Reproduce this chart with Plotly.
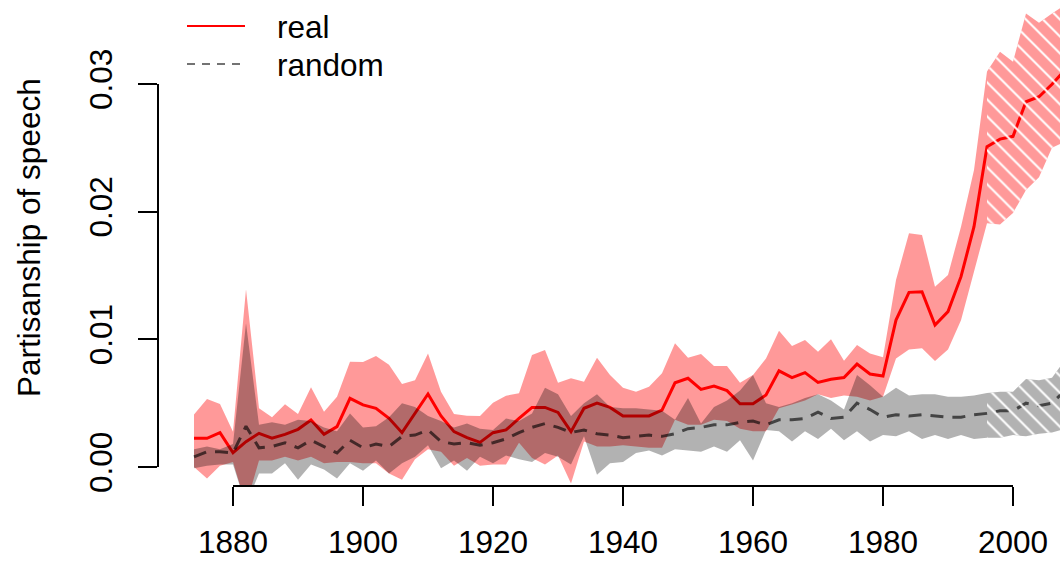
import plotly.graph_objects as go

# Congress years (every two years)
years = list(range(1874, 2010, 2))

# Partisanship of real speech: point estimate and confidence band
real = [0.00225, 0.00225, 0.00269, 0.00112, 0.00198, 0.00264, 0.00225, 0.00256, 0.00295, 0.00368,
        0.00256, 0.00316, 0.00538, 0.00486, 0.00460, 0.00381, 0.00269, 0.00420, 0.00572, 0.00400,
        0.00277, 0.00230, 0.00193, 0.00269, 0.00290, 0.00380, 0.00467, 0.00467, 0.00428, 0.00277,
        0.00460, 0.00500, 0.00467, 0.00400, 0.00400, 0.00400, 0.00446, 0.00660, 0.00695, 0.00608,
        0.00634, 0.00598, 0.00495, 0.00495, 0.00564, 0.00753, 0.00700, 0.00739, 0.00662, 0.00687,
        0.00701, 0.00806, 0.00728, 0.00713, 0.01151, 0.01368, 0.01373, 0.01112, 0.01217, 0.01491,
        0.01882, 0.02509, 0.02568, 0.02590, 0.02861, 0.02900, 0.02998, 0.03110]
real_hi = [0.00412, 0.00533, 0.00493, 0.00277, 0.01392, 0.00460, 0.00389, 0.00491, 0.00415, 0.00624,
           0.00433, 0.00550, 0.00825, 0.00823, 0.00870, 0.00800, 0.00650, 0.00680, 0.00890, 0.00590,
           0.00415, 0.00402, 0.00400, 0.00504, 0.00559, 0.00577, 0.00877, 0.00916, 0.00660, 0.00695,
           0.00668, 0.00856, 0.00720, 0.00621, 0.00590, 0.00629, 0.00734, 0.00969, 0.00856, 0.00885,
           0.00791, 0.00792, 0.00660, 0.00720, 0.00850, 0.01068, 0.00948, 0.00995, 0.00903, 0.01000,
           0.00833, 0.00956, 0.00890, 0.00859, 0.01465, 0.01830, 0.01817, 0.01412, 0.01504, 0.01882,
           0.02326, 0.03097, 0.03253, 0.03175, 0.03553, 0.03480, 0.03553, 0.03620]
real_lo = [0.0000, -0.0009, 0.0001, 0.0004, -0.0030, 0.0005, 0.0005, 0.0008, 0.0005, 0.0008,
           0.0003, 0.0004, 0.0004, 0.0003, 0.0003, -0.0005, -0.0010, 0.0006, 0.0014, 0.0012,
           0.0001, 0.0007, 0.0001, 0.0002, 0.0002, 0.0019, 0.0007, 0.0002, 0.0009, -0.0013,
           0.0020, 0.0016, 0.0016, 0.0017, 0.0016, 0.0015, 0.0015, 0.0037, 0.0033, 0.0033,
           0.0037, 0.0036, 0.0030, 0.0028, 0.0028, 0.0046, 0.0049, 0.0052, 0.0057, 0.0054,
           0.0056, 0.0055, 0.0052, 0.0055, 0.0085, 0.0092, 0.0093, 0.0083, 0.0092, 0.0115,
           0.0152, 0.0191, 0.0190, 0.0199, 0.0217, 0.0227, 0.0250, 0.0255]

# Partisanship under randomly assigned party labels
random_ = [0.0008, 0.0012, 0.0012, 0.0011, 0.0032, 0.0015, 0.0016, 0.0019, 0.0015, 0.0021,
           0.0016, 0.0011, 0.0021, 0.0015, 0.0018, 0.0016, 0.0024, 0.0025, 0.0029, 0.0020,
           0.0018, 0.0019, 0.0017, 0.0019, 0.0022, 0.0027, 0.0031, 0.0034, 0.0031, 0.0027,
           0.0029, 0.0026, 0.0025, 0.0023, 0.0024, 0.0025, 0.0024, 0.0026, 0.0030, 0.0031,
           0.0033, 0.0033, 0.0035, 0.0036, 0.0033, 0.0037, 0.0037, 0.0038, 0.0043, 0.0038,
           0.0039, 0.0050, 0.0045, 0.0039, 0.0041, 0.0040, 0.0041, 0.0040, 0.0039, 0.0039,
           0.0041, 0.0042, 0.0044, 0.0044, 0.0050, 0.0048, 0.0050, 0.0060]
random_hi = [0.0014, 0.0016, 0.0014, 0.0018, 0.01125, 0.0033, 0.0035, 0.0033, 0.0037, 0.0036,
             0.0031, 0.0028, 0.0042, 0.0031, 0.0032, 0.0039, 0.0050, 0.0047, 0.0040, 0.0036,
             0.0031, 0.0034, 0.0030, 0.0029, 0.0038, 0.0036, 0.0042, 0.0062, 0.0057, 0.0040,
             0.0050, 0.0057, 0.0047, 0.0046, 0.0046, 0.0045, 0.0044, 0.0037, 0.0054, 0.0034,
             0.0047, 0.0052, 0.0060, 0.0072, 0.0050, 0.0047, 0.0050, 0.0054, 0.0057, 0.0052,
             0.0045, 0.0072, 0.0064, 0.0055, 0.0062, 0.0056, 0.0057, 0.0057, 0.0055, 0.0055,
             0.0056, 0.0058, 0.0059, 0.0059, 0.0069, 0.0068, 0.0070, 0.0084]
random_lo = [-0.0001, 0.0001, 0.0002, 0.0002, -0.0030, -0.0005, -0.0005, 0.0003, -0.0010, 0.0002,
             -0.0002, -0.0009, 0.0003, -0.0003, 0.0005, -0.0005, 0.0003, 0.0008, 0.0017, -0.0001,
             0.0005, -0.0003, 0.0008, 0.0003, 0.0009, 0.0006, 0.0004, 0.0011, 0.0008, 0.0002,
             0.0024, -0.0006, 0.0003, 0.0004, 0.0011, 0.0013, 0.0009, 0.0014, 0.0013, 0.0012,
             0.0016, 0.0012, 0.0021, 0.0005, 0.0029, 0.0028, 0.0020, 0.0028, 0.0022, 0.0030,
             0.0021, 0.0028, 0.0020, 0.0025, 0.0024, 0.0028, 0.0022, 0.0025, 0.0022, 0.0025,
             0.0022, 0.0023, 0.0023, 0.0025, 0.0024, 0.0026, 0.0027, 0.0030]

# Years after this are shown hatched
hatch_from = 1996

x_ticks = [1880, 1900, 1920, 1940, 1960, 1980, 2000]
y_ticks = [0.0, 0.01, 0.02, 0.03]
y_tick_text = ["0.00", "0.01", "0.02", "0.03"]

legend_labels = ["real", "random"]
y_title = "Partisanship of speech"

FONT = "Liberation Sans, Arial, Helvetica, sans-serif"
FS = 31.5
W, H = 1060, 564

RED_BAND = "rgba(255,0,0,0.4)"
GRAY_BAND = "rgba(0,0,0,0.3)"
RED_LINE = "rgb(255,0,0)"
RAND_LINE = "rgba(0,0,0,0.62)"


def band(xs, lo, hi):
    return xs + xs[::-1], hi + lo[::-1]


def tail(seq):
    return [v for yr, v in zip(years, seq) if yr >= hatch_from]


fig = go.Figure()

# confidence band of the real series, then its line
bx, by = band(years, real_lo, real_hi)
fig.add_trace(go.Scatter(x=bx, y=by, fill="toself", fillcolor=RED_BAND,
                         line=dict(width=0), mode="lines", hoverinfo="skip"))
fig.add_trace(go.Scatter(x=years, y=real, mode="lines",
                         line=dict(color=RED_LINE, width=3), name=legend_labels[0]))

# band and dashed line for the random-label series
bx, by = band(years, random_lo, random_hi)
fig.add_trace(go.Scatter(x=bx, y=by, fill="toself", fillcolor=GRAY_BAND,
                         line=dict(width=0), mode="lines", hoverinfo="skip"))
fig.add_trace(go.Scatter(x=years, y=random_, mode="lines",
                         line=dict(color=RAND_LINE, width=3, dash="13px,9px"),
                         name=legend_labels[1]))

# white hatching over the recent congresses
ty = tail(years)
for lo, hi in ((real_lo, real_hi), (random_lo, random_hi)):
    hx, hy = band(ty, tail(lo), tail(hi))
    fig.add_trace(go.Scatter(
        x=hx, y=hy, fill="toself", fillcolor="rgba(0,0,0,0)", mode="lines",
        line=dict(width=0), hoverinfo="skip",
        fillpattern=dict(shape="\\", fgcolor="white", bgcolor="rgba(0,0,0,0)",
                         size=12, solidity=0.17, fgopacity=1),
    ))

# empty trace that carries the drawn axes
fig.add_trace(go.Scatter(x=[None], y=[None], xaxis="x2", yaxis="y2", hoverinfo="skip"))

x0_px, x1880_px, x2000_px = 158, 233, 1013
y_axis_px, y0_px, y03_px = 486, 467, 84
px_per_year = (x2000_px - x1880_px) / 120
px_per_unit = (y0_px - y03_px) / 0.03

fig.update_layout(
    template="none",
    width=W, height=H, autosize=False,
    margin=dict(l=0, r=0, t=0, b=0, pad=0, autoexpand=False),
    paper_bgcolor="white", plot_bgcolor="rgba(0,0,0,0)",
    showlegend=False,
    font=dict(family=FONT, size=FS, color="black"),
    xaxis=dict(domain=[x0_px / W, 1],
               range=[1880 - (x1880_px - x0_px) / px_per_year,
                      1880 + (W - x1880_px) / px_per_year],
               visible=False, fixedrange=True, automargin=False),
    yaxis=dict(domain=[(H - y_axis_px) / H, 1],
               range=[-(y_axis_px - y0_px) / px_per_unit, y0_px / px_per_unit],
               visible=False, fixedrange=True, automargin=False),
    xaxis2=dict(domain=[x1880_px / W, x2000_px / W], range=[1880, 2000],
                anchor="free", position=(H - y_axis_px) / H, side="bottom",
                tickvals=x_ticks, ticktext=[str(v) for v in x_ticks],
                ticks="outside", ticklen=19, tickwidth=1.6, tickcolor="black",
                showline=True, linewidth=1.6, linecolor="black",
                showgrid=False, zeroline=False, ticklabelstandoff=9,
                automargin=False, fixedrange=True,
                tickfont=dict(family=FONT, size=FS, color="black")),
    yaxis2=dict(domain=[(H - y0_px) / H, (H - y03_px) / H], range=[0, 0.03],
                anchor="free", position=x0_px / W, side="left",
                tickvals=y_ticks, ticktext=y_tick_text, tickangle=-90,
                ticks="outside", ticklen=19, tickwidth=1.6, tickcolor="black",
                showline=True, linewidth=1.6, linecolor="black",
                showgrid=False, zeroline=False, ticklabelstandoff=14,
                automargin=False, fixedrange=True,
                tickfont=dict(family=FONT, size=FS, color="black")),
)

# axis title
fig.add_annotation(text=y_title, textangle=-90, xref="paper", yref="paper",
                   x=29 / W, y=1 - 238 / H, xanchor="center", yanchor="middle",
                   showarrow=False, font=dict(family=FONT, size=FS, color="black"))

# legend keys and labels
fig.add_shape(type="line", xref="paper", yref="paper",
              x0=187 / W, x1=245 / W, y0=1 - 26 / H, y1=1 - 26 / H,
              line=dict(color=RED_LINE, width=2))
fig.add_shape(type="line", xref="paper", yref="paper",
              x0=187 / W, x1=245 / W, y0=1 - 64 / H, y1=1 - 64 / H,
              line=dict(color="rgba(0,0,0,0.55)", width=1.8, dash="8px,7px"))
for label, yc in zip(legend_labels, (27, 65)):
    fig.add_annotation(text=label, xref="paper", yref="paper",
                       x=275 / W, y=1 - yc / H, xanchor="left", yanchor="middle",
                       showarrow=False, font=dict(family=FONT, size=FS, color="black"))

fig.write_html("out.html", config={"responsive": False, "displayModeBar": False})
